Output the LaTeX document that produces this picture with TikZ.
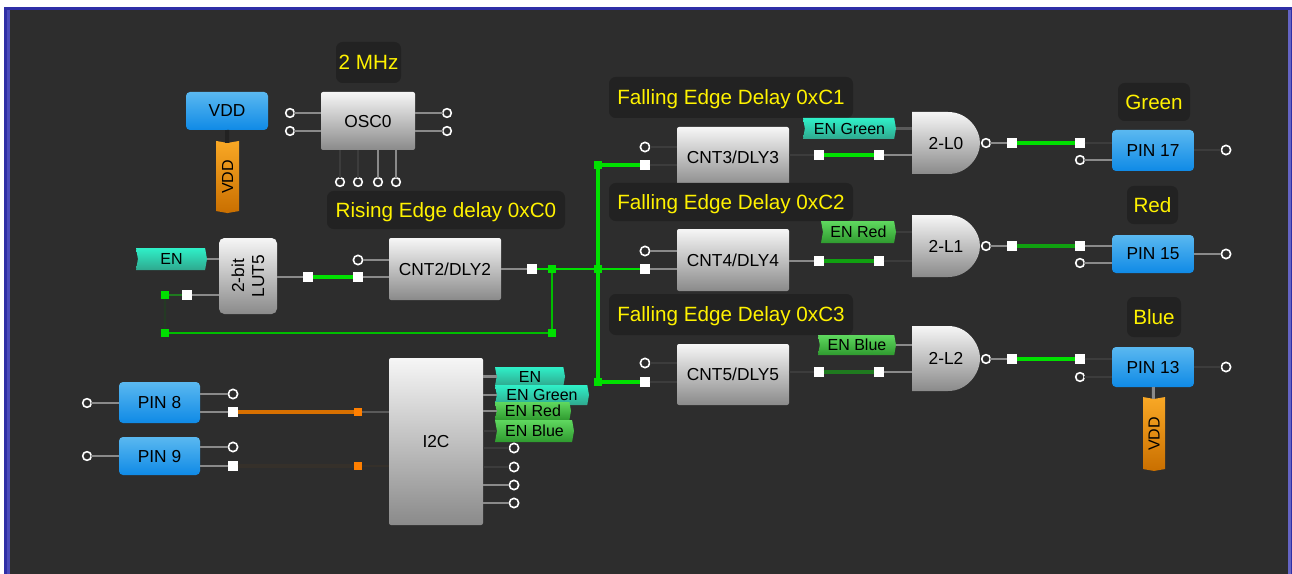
\documentclass[tikz,border=0pt]{standalone}
\usepackage{fontspec}
\setmainfont{Liberation Sans}
\usetikzlibrary{shapes.symbols}
\definecolor{bgc}{HTML}{2D2D2D}
\definecolor{lblc}{HTML}{222222}
\definecolor{fr1}{HTML}{2F2FA6}
\definecolor{fr2}{HTML}{4A4AB8}
\definecolor{fr3}{HTML}{6464C4}
\definecolor{wg}{HTML}{8A8A8A}
\definecolor{wd}{HTML}{3C3C3C}
\definecolor{wm}{HTML}{5A5A5A}
\definecolor{gb}{HTML}{00E000}
\definecolor{gm}{HTML}{10A010}
\definecolor{gd}{HTML}{1F7A1F}
\definecolor{gv}{HTML}{243A24}
\definecolor{og}{HTML}{D87000}
\definecolor{ogd}{HTML}{35302A}
\definecolor{ojc}{HTML}{FF7F00}
\definecolor{gt}{HTML}{F6F6F6}
\definecolor{gbm}{HTML}{8A8A8A}
\definecolor{bt}{HTML}{5AB8F0}
\definecolor{bb}{HTML}{0F8AE6}
\definecolor{tt}{HTML}{2FF0C8}
\definecolor{tb}{HTML}{2FA88E}
\definecolor{ht}{HTML}{5FD85F}
\definecolor{hb}{HTML}{2F9A2F}
\definecolor{ot}{HTML}{F9A825}
\definecolor{ob}{HTML}{C96F00}
\tikzset{
  x=0.75pt,y=-0.75pt,
  allbox/.style={inner sep=0pt,outer sep=0pt,align=center,text=black,text depth=0pt,font=\fontsize{13}{15}\selectfont},
  graybox/.style={allbox,top color=gt,bottom color=gbm,draw=none,rounded corners=1.5pt},
  pinbox/.style={allbox,top color=bt,bottom color=bb,rounded corners=3pt},
  tagshape/.style={allbox,signal,signal to=east,signal from=west,signal pointer angle=160,font=\fontsize{12}{14}\selectfont},
  tealtag/.style={tagshape,top color=tt,bottom color=tb},
  greentag/.style={tagshape,top color=ht,bottom color=hb},
  orangetag/.style={allbox,signal,signal to=south,signal from=north,signal pointer angle=160,top color=ot,bottom color=ob,font=\fontsize{12}{14}\selectfont},
  lbl/.style={inner sep=0pt,outer sep=0pt,fill=lblc,rounded corners=5pt,text=yellow,text depth=0pt,font=\fontsize{15.5}{18}\selectfont},
  sq/.style={rectangle,fill=white,inner sep=0pt,outer sep=0pt,minimum size=7pt},
  ring/.style={circle,draw=white,fill=bgc,line width=1.2pt,inner sep=0pt,outer sep=0pt,minimum size=7pt},
  sring/.style={ring,minimum size=6.5pt},
  jn/.style={rectangle,fill=gb,inner sep=0pt,outer sep=0pt,minimum size=5.5pt},
  ojn/.style={rectangle,fill=ojc,inner sep=0pt,outer sep=0pt,minimum size=6pt},
  ww/.style={line width=2.2pt,color=#1},
}
\newcommand\bx[7]{\node[#2,minimum width={(#5-#3)*0.75pt},minimum height={(#6-#4)*0.75pt}] (#1) at ({(#3+#5)/2},{(#4+#6)/2}) {#7};}
\newcommand\pn[4]{\node[#2] (#1) at (#3,#4) {};}
\newcommand\gate[5]{%
  \shade[top color=gt,bottom color=gbm] (#2,#3) -- (#2+36,#3) .. controls (#2+56,#3) and (#2+68,{#3+(#4-#3)*0.28}) .. (#2+68,{(#3+#4)/2}) .. controls (#2+68,{#4-(#4-#3)*0.28}) and (#2+56,#4) .. (#2+36,#4) -- (#2,#4) -- cycle;
  \node[allbox,minimum width=51pt,minimum height={(#4-#3)*0.75pt}] (#1) at (#2+34,{(#3+#4)/2}) {#5};}
\begin{document}
\begin{tikzpicture}
\useasboundingbox (0,0) rectangle (1292,574);
\fill[white] (0,0) rectangle (1292,574);
\fill[fr1] (4,7) rectangle (1292,574);
\fill[fr2] (7,10) rectangle (10,574);
\fill[fr3] (1288,10) rectangle (1291,574);
\fill[bgc] (10,10) rectangle (1288,574);
% blocks
\bx{vdd}{pinbox}{186}{92}{268}{130}{VDD}
\bx{vddtag}{orangetag}{216}{142}{239}{212}{\rotatebox{90}{VDD}}
\bx{osc}{graybox}{321}{92}{415}{150}{OSC0}
\bx{lut}{graybox,rounded corners=4pt}{219}{238}{277}{314}{\rotatebox{90}{\shortstack{2-bit\\[3pt]LUT5}}}
\bx{cnttwo}{graybox}{389}{238}{501}{300}{CNT2/DLY2}
\bx{cntthree}{graybox}{677}{127}{789}{187}{CNT3/DLY3}
\bx{cntfour}{graybox}{677}{229}{789}{291}{CNT4/DLY4}
\bx{cntfive}{graybox}{677}{344}{789}{405}{CNT5/DLY5}
\bx{itwoc}{graybox}{389}{358}{483}{525}{I2C}
\bx{pineight}{pinbox}{119}{382}{200}{423}{PIN 8}
\bx{pinnine}{pinbox}{119}{437}{200}{475}{PIN 9}
\bx{pinseventeen}{pinbox}{1112}{130}{1194}{171}{PIN 17}
\bx{pinfifteen}{pinbox}{1112}{235}{1194}{273}{PIN 15}
\bx{pinblue}{pinbox}{1112}{347}{1194}{387}{PIN 13}
\bx{vddtagb}{orangetag}{1143}{398}{1165}{470}{\rotatebox{90}{VDD}}
\gate{gzero}{912}{112}{174}{2-L0}
\gate{gone}{912}{215}{277}{2-L1}
\gate{gtwo}{912}{326}{391}{2-L2}
% labels
\bx{lmhz}{lbl}{336}{42}{401}{83}{2 MHz}
\bx{lrise}{lbl}{327}{191}{565}{229}{Rising Edge delay 0xC0}
\bx{lfa}{lbl}{609}{77}{853}{118}{Falling Edge Delay 0xC1}
\bx{lfb}{lbl}{609}{183}{853}{221}{Falling Edge Delay 0xC2}
\bx{lfc}{lbl}{609}{294}{853}{335}{Falling Edge Delay 0xC3}
\bx{lgreen}{lbl}{1118}{83}{1190}{121}{Green}
\bx{lred}{lbl}{1127}{186}{1178}{224}{Red}
\bx{lblue}{lbl}{1127}{297}{1181}{337}{Blue}
% tags
\bx{ten}{tealtag}{136}{248}{207}{270}{EN}
\bx{tgreen}{tealtag}{803}{118}{896}{139}{EN Green}
\bx{tred}{greentag}{821}{221}{896}{243}{EN Red}
\bx{tblue}{greentag}{818}{335}{896}{355}{EN Blue}
\bx{ia}{tealtag}{495}{367}{565}{386}{EN}
\bx{ib}{tealtag}{495}{385}{589}{405}{EN Green}
\bx{ic}{greentag}{495}{402}{571}{420}{EN Red}
\bx{id}{greentag}{495}{420}{574}{442}{EN Blue}
% pins
\pn{oa}{sring}{290}{113} \pn{ob}{sring}{290}{131}
\pn{oc}{sring}{447}{113} \pn{od}{sring}{447}{131}
\pn{oe}{sring}{340}{182} \pn{of}{sring}{358}{182}
\pn{og}{sring}{378}{182} \pn{oh}{sring}{396}{182}
\pn{lb}{sq}{187}{295}
\pn{lo}{sq}{308}{277} \pn{ca}{ring}{358}{260} \pn{cb}{sq}{358}{277} \pn{co}{sq}{532}{269}
\pn{jla}{jn}{165}{295} \pn{jlb}{jn}{165}{333} \pn{jm}{jn}{552}{333} \pn{jn}{jn}{552}{269}
\pn{jo}{jn}{598}{269} \pn{jtop}{jn}{598}{165} \pn{jbot}{jn}{598}{382}
\pn{ta}{ring}{645}{147} \pn{tb}{sq}{645}{165} \pn{tc}{sq}{819}{155} \pn{td}{sq}{879}{155}
\pn{ua}{ring}{645}{251} \pn{ub}{sq}{645}{269} \pn{uc}{sq}{819}{261} \pn{ud}{sq}{879}{261}
\pn{va}{ring}{645}{363} \pn{vb}{sq}{645}{382} \pn{vc}{sq}{819}{372} \pn{vd}{sq}{879}{372}
\pn{ga}{sring}{986}{143} \pn{gb}{sq}{1012}{143} \pn{gc}{sq}{1080}{143} \pn{gd}{sring}{1080}{160} \pn{ge}{ring}{1226}{150}
\pn{ha}{sring}{986}{246} \pn{hb}{sq}{1012}{246} \pn{hc}{sq}{1080}{246} \pn{hd}{sring}{1080}{263} \pn{he}{ring}{1226}{254}
\pn{ka}{sring}{986}{359} \pn{kb}{sq}{1012}{359} \pn{kc}{sq}{1080}{359} \pn{kd}{sring}{1080}{377} \pn{ke}{ring}{1226}{367}
\pn{ea}{sring}{87}{403} \pn{eb}{ring}{233}{394} \pn{ec}{sq}{233}{412} \pn{ed}{ojn}{358}{412}
\pn{na}{sring}{87}{456} \pn{nb}{ring}{233}{447} \pn{nc}{sq}{233}{466} \pn{nd}{ojn}{358}{466}
\pn{ie}{ring}{514}{448} \pn{if}{ring}{514}{467} \pn{ig}{ring}{514}{485} \pn{ih}{ring}{514}{503}
% connectors
\draw[ww=lblc,line width=3pt] (vdd) -- (vddtag);
\draw[ww=wg] (oa) -- (oa -| osc.west);
\draw[ww=wg] (ob) -- (ob -| osc.west);
\draw[ww=wg] (oc) -- (oc -| osc.east);
\draw[ww=wg] (od) -- (od -| osc.east);
\draw[ww=wd] (oe) -- (oe |- osc.south);
\draw[ww=wd] (of) -- (of |- osc.south);
\draw[ww=wg] (og) -- (og |- osc.south);
\draw[ww=wg] (oh) -- (oh |- osc.south);
\draw[ww=wg] (ten.east) -- (ten.east -| lut.west);
\draw[ww=wg] (lb) -- (lb -| lut.west);
\draw[ww=gd] (jla) -- (lb);
\draw[ww=gv] (jla) -- (jlb);
\draw[ww=gb!85!black] (jlb) -- (jm);
\draw[ww=gb!85!black] (jm) -- (jn);
\draw[ww=wg] (lo -| lut.east) -- (lo);
\draw[ww=gb,line width=2.8pt] (lo) -- (cb);
\draw[ww=wg] (cb) -- (cb -| cnttwo.west);
\draw[ww=wg] (ca) -- (ca -| cnttwo.west);
\draw[ww=wg] (co -| cnttwo.east) -- (co);
\draw[ww=gb] (co) -- (jn);
\draw[ww=gb] (jn) -- (jo);
\draw[ww=gb] (jo) -- (ub);
\draw[ww=gb,line width=3pt] (jtop) -- (jo);
\draw[ww=gb,line width=3pt] (jo) -- (jbot);
\draw[ww=gb,line width=2.8pt] (jtop) -- (tb);
\draw[ww=gb,line width=2.8pt] (jbot) -- (vb);
% CNT3
\draw[ww=wd] (ta) -- (ta -| cntthree.west);
\draw[ww=wd] (tb) -- (tb -| cntthree.west);
\draw[ww=wd] (tc -| cntthree.east) -- (tc);
\draw[ww=gb,line width=2.8pt] (tc) -- (td);
\draw[ww=wg] (td) -- (td -| gzero.west);
\draw[ww=wm] (tgreen.east) -- (tgreen.east -| gzero.west);
\draw[ww=wg] (ga) -- (gb);
\draw[ww=gb,line width=2.8pt] (gb) -- (gc);
\draw[ww=wd] (gc) -- (gc -| pinseventeen.west);
\draw[ww=wg] (gd) -- (gd -| pinseventeen.west);
\draw[ww=wd] (ge) -- (ge -| pinseventeen.east);
% CNT4
\draw[ww=wg] (ua) -- (ua -| cntfour.west);
\draw[ww=wg] (ub) -- (ub -| cntfour.west);
\draw[ww=wg] (uc -| cntfour.east) -- (uc);
\draw[ww=gm,line width=2.8pt] (uc) -- (ud);
\draw[ww=wd] (ud) -- (ud -| gone.west);
\draw[ww=wd] (tred.east) -- (tred.east -| gone.west);
\draw[ww=wg] (ha) -- (hb);
\draw[ww=gm,line width=2.8pt] (hb) -- (hc);
\draw[ww=wg] (hc) -- (hc -| pinfifteen.west);
\draw[ww=wg] (hd) -- (hd -| pinfifteen.west);
\draw[ww=wg] (he) -- (he -| pinfifteen.east);
% CNT5
\draw[ww=wd] (va) -- (va -| cntfive.west);
\draw[ww=wd] (vb) -- (vb -| cntfive.west);
\draw[ww=wd] (vc -| cntfive.east) -- (vc);
\draw[ww=gd,line width=2.8pt] (vc) -- (vd);
\draw[ww=wg] (vd) -- (vd -| gtwo.west);
\draw[ww=wg] (tblue.east) -- (tblue.east -| gtwo.west);
\draw[ww=wg] (ka) -- (kb);
\draw[ww=gb,line width=2.8pt] (kb) -- (kc);
\draw[ww=wd] (kc) -- (kc -| pinblue.west);
\draw[ww=wd] (kd) -- (kd -| pinblue.west);
\draw[ww=wd] (ke) -- (ke -| pinblue.east);
\draw[ww=wg] (pinblue) -- (vddtagb);
% PIN 8/9
\draw[ww=wg] (ea) -- (ea -| pineight.west);
\draw[ww=wg] (eb) -- (eb -| pineight.east);
\draw[ww=wg] (ec) -- (ec -| pineight.east);
\draw[ww=og,line width=2.8pt] (ec) -- (ed);
\draw[ww=wm] (ed) -- (ed -| itwoc.west);
\draw[ww=wg] (na) -- (na -| pinnine.west);
\draw[ww=wg] (nb) -- (nb -| pinnine.east);
\draw[ww=wg] (nc) -- (nc -| pinnine.east);
\draw[ww=ogd,line width=2.8pt] (nc) -- (nd);
\draw[ww=ogd] (nd) -- (nd -| itwoc.west);
% I2C
\draw[ww=wg] (ia.west -| itwoc.east) -- (ia.west);
\draw[ww=wg] (ib.west -| itwoc.east) -- (ib.west);
\draw[ww=wg] (ic.west -| itwoc.east) -- (ic.west);
\draw[ww=wd] (id.west -| itwoc.east) -- (id.west);
\draw[ww=wd] (ie -| itwoc.east) -- (ie);
\draw[ww=wd] (if -| itwoc.east) -- (if);
\draw[ww=wg] (ig -| itwoc.east) -- (ig);
\draw[ww=wg] (ih -| itwoc.east) -- (ih);
\end{tikzpicture}
\end{document}
